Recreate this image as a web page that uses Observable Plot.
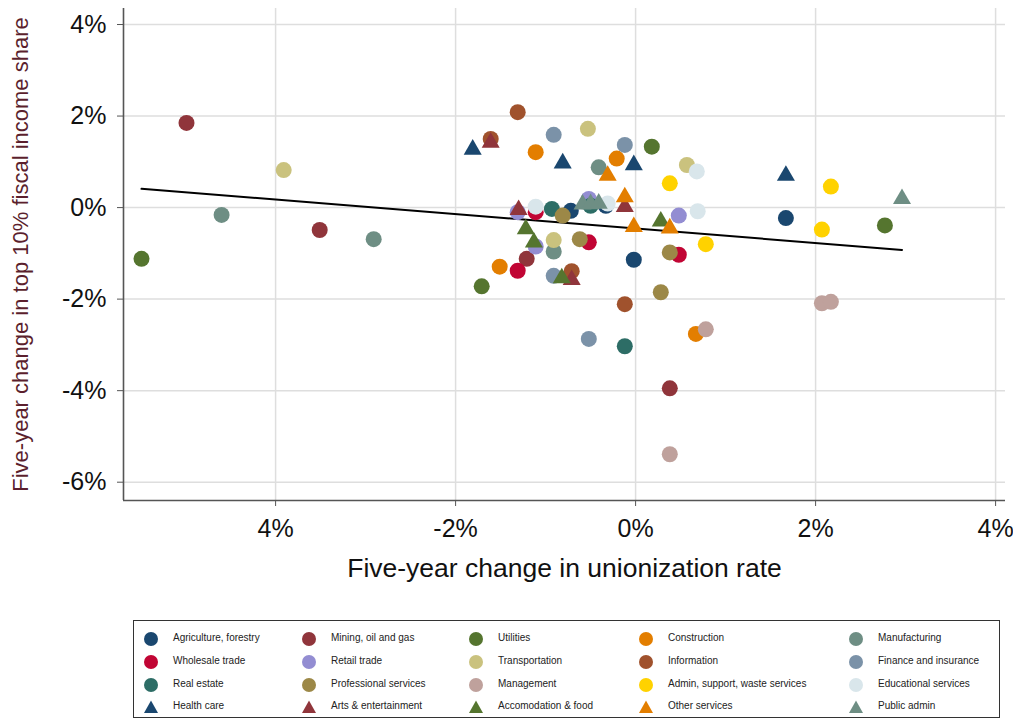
<!DOCTYPE html>
<html><head><meta charset="utf-8">
<script src="https://cdn.jsdelivr.net/npm/d3@7"></script>
<script src="https://cdn.jsdelivr.net/npm/@observablehq/plot@0.6"></script>
<style>
body{margin:0;background:#fff;font-family:"Liberation Sans",Arial,sans-serif;}
#wrap{position:relative;width:1013px;height:725px;background:#fff;}
#legend{position:absolute;left:133px;top:620px;width:867px;height:98px;border:1px solid #333;box-sizing:border-box;background:#fff;}
.item{position:absolute;font-size:10px;color:#222;white-space:nowrap;line-height:12px;}
.mk{position:absolute;}
</style></head><body><div id="wrap"><div id="chart"></div><div id="legend"></div></div>
<script>
// ---- data ----
const industries = [
  "Agriculture, forestry","Mining, oil and gas","Utilities","Construction","Manufacturing",
  "Wholesale trade","Retail trade","Transportation","Information","Finance and insurance",
  "Real estate","Professional services","Management","Admin, support, waste services","Educational services",
  "Health care","Arts & entertainment","Accomodation & food","Other services","Public admin"
];
const markers = [
  "circle","circle","circle","circle","circle",
  "circle","circle","circle","circle","circle",
  "circle","circle","circle","circle","circle",
  "triangle","triangle","triangle","triangle","triangle"
];
const colors = [
  "#1a476f","#90353b","#55752f","#e37e00","#6e8e84",
  "#c10534","#938dd2","#cac27e","#a0522d","#7b92a8",
  "#2d6d66","#9c8847","#bfa19c","#ffd200","#d9e6eb",
  "#1a476f","#90353b","#55752f","#e37e00","#6e8e84"
];
// five-year change in unionization rate (%)
const xChange = [
  [-0.72, -0.33, -0.02, 1.67],
  [-4.99, -3.51, -1.21, 0.38],
  [-5.49, -1.71, 0.18, 2.77],
  [-1.51, -1.11, -0.21, 0.67],
  [-4.60, -2.91, -0.91, -0.41],
  [-1.31, -1.11, -0.52, 0.48],
  [-1.31, -1.11, -0.52, 0.48],
  [-3.91, -0.91, -0.53, 0.57],
  [-1.61, -1.31, -0.71, -0.12],
  [-0.91, -0.91, -0.52, -0.12],
  [-0.93, -0.50, -0.12],
  [-0.81, -0.62, 0.38, 0.28],
  [0.78, 0.38, 2.07, 2.17],
  [0.38, 0.78, 2.17, 2.07],
  [-1.11, -0.31, 0.68, 0.69],
  [-1.81, -0.81, -0.02, 1.67],
  [-1.61, -1.30, -0.71, -0.12],
  [-1.22, -1.13, -0.82, 0.28],
  [-0.31, -0.12, -0.02, 0.38],
  [-0.59, -0.50, -0.41, 2.96]
];
// five-year change in top 10% fiscal income share (%)
const yChange = [
  [-0.07, 0.04, -1.14, -0.23],
  [1.85, -0.49, -1.12, -3.95],
  [-1.12, -1.72, 1.33, -0.39],
  [-1.29, 1.21, 1.07, -2.76],
  [-0.16, -0.69, -0.96, 0.88],
  [-1.38, -0.10, -0.76, -1.03],
  [-0.10, -0.85, 0.19, -0.175],
  [0.82, -0.71, 1.72, 0.93],
  [1.50, 2.085, -1.39, -2.11],
  [1.59, -1.49, -2.87, 1.37],
  [-0.03, 0.04, -3.03],
  [-0.175, -0.69, -0.98, -1.85],
  [-2.66, -5.39, -2.09, -2.06],
  [0.53, -0.80, 0.46, -0.48],
  [0.02, 0.09, 0.79, -0.08],
  [1.27, 0.97, 0.93, 0.70],
  [1.42, -0.05, -1.58, 0.02],
  [-0.47, -0.76, -1.54, -0.30],
  [0.70, 0.23, -0.42, -0.45],
  [0.07, 0.08, 0.09, 0.19]
];
// fitted line endpoints
const fitX = [-5.49, 2.96];
const fitY = [0.41, -0.925];

const xTickValues = [-4, -2, 0, 2, 4];
const xTickLabels = ["4%", "-2%", "0%", "2%", "4%"];
const yTickValues = [4, 2, 0, -2, -4, -6];
const xDomain = [-5.69, 4.11];
const yDomain = [-6.40, 4.35];
const xTitle = "Five-year change in unionization rate";
const yTitle = "Five-year change in top 10% fiscal income share";

// ---- build ----
const rows = industries.flatMap((name, i) => xChange[i].map((x, j) => ({name, x, y: yChange[i][j], shape: markers[i], color: colors[i]})));
const circles = rows.filter(d => d.shape === "circle");
const tris = rows.filter(d => d.shape === "triangle");
const fit = fitX.map((x, i) => ({x, y: fitY[i]}));

const chart = Plot.plot({
  width: 1013, height: 605,
  marginLeft: 123, marginRight: 8, marginTop: 8, marginBottom: 105,
  style: {fontFamily: "Liberation Sans, Arial, sans-serif", background: "#fff", color: "#111", overflow: "visible"},
  x: {domain: xDomain},
  y: {domain: yDomain},
  color: {type: "identity"},
  marks: [
    Plot.gridX(xTickValues, {stroke: "#dedede", strokeOpacity: 1, strokeWidth: 1.5}),
    Plot.gridY(yTickValues, {stroke: "#dedede", strokeOpacity: 1, strokeWidth: 1.5}),
    Plot.ruleX([xDomain[0]], {stroke: "#555", strokeWidth: 1.6}),
    Plot.ruleY([yDomain[0]], {stroke: "#555", strokeWidth: 1.6}),
    Plot.axisX(xTickValues, {tickFormat: d => xTickLabels[xTickValues.indexOf(d)], tickSize: 6, tickPadding: 13, fontSize: 25, label: null, stroke: "#555"}),
    Plot.axisY(yTickValues, {tickFormat: d => d + "%", tickSize: 6, tickPadding: 11, fontSize: 25, label: null, stroke: "#555"}),
    Plot.line(fit, {x: "x", y: "y", stroke: "#000", strokeWidth: 2}),
    Plot.dot(circles, {x: "x", y: "y", r: 8, fill: "color"}),
    Plot.dot(tris, {x: "x", y: "y", symbol: "triangle", r: 6.7, fill: "color"}),
    Plot.text([xTitle], {frameAnchor: "bottom", dy: 76, fontSize: 26.5, fill: "#111", textAnchor: "middle"}),
    Plot.text([yTitle], {frameAnchor: "left", rotate: -90, dx: -103, fontSize: 22, fill: "#5b1f2d", textAnchor: "middle"})
  ]
});
document.getElementById("chart").appendChild(chart);

// ---- legend ----
const legend = document.getElementById("legend");
const colMarker = [17, 175, 342, 512, 722];
const rowY = [18, 41, 64, 86];
industries.forEach((name, i) => {
  const r = Math.floor(i / 5), c = i % 5;
  const svg = d3.create("svg").attr("class", "mk").attr("width", 16).attr("height", 16)
    .style("left", (colMarker[c] - 8) + "px").style("top", (rowY[r] - 8) + "px");
  if (markers[i] === "circle") svg.append("circle").attr("cx", 8).attr("cy", 8).attr("r", 7).attr("fill", colors[i]);
  else svg.append("path").attr("d", "M8,1.5L15,14L1,14Z").attr("fill", colors[i]);
  legend.appendChild(svg.node());
  const t = document.createElement("div");
  t.className = "item";
  t.textContent = name;
  t.style.left = (colMarker[c] + 22) + "px";
  t.style.top = (rowY[r] - 7) + "px";
  legend.appendChild(t);
});
</script>
</body></html>
